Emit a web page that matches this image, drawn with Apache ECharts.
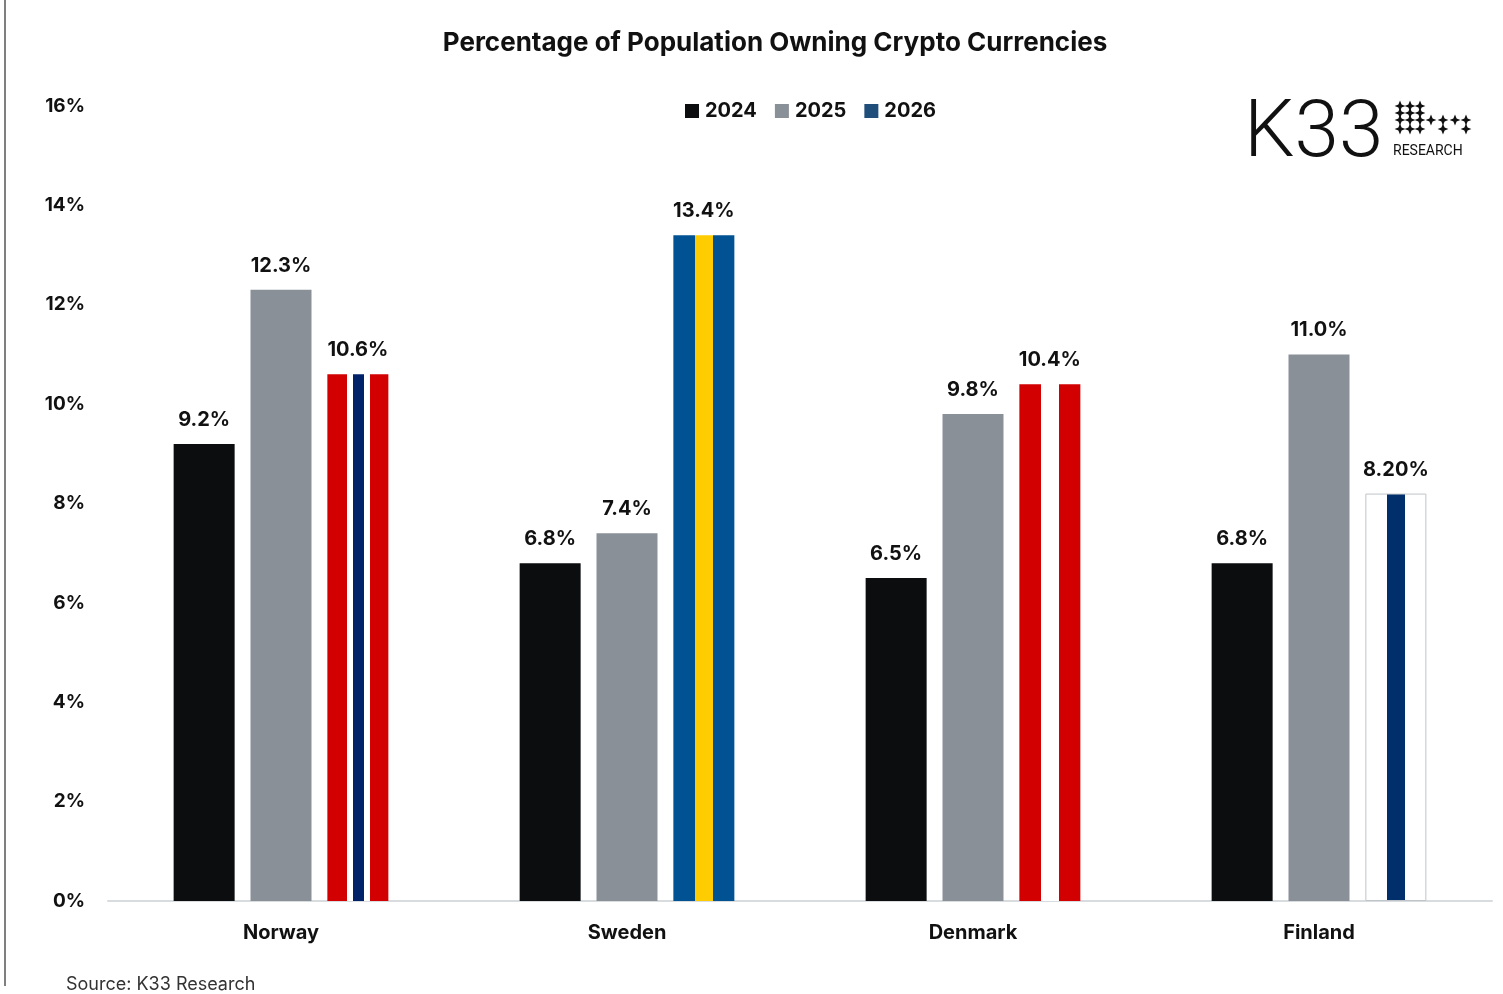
<!DOCTYPE html>
<html>
<head>
<meta charset="utf-8">
<script src="https://cdn.jsdelivr.net/npm/echarts@6/dist/echarts.min.js"></script>
<style>
html,body{margin:0;padding:0;background:#fff;}
#chart{width:1503px;height:994px;}
</style>
</head>
<body>
<div id="chart"></div>
<script>
// ---- data ----
const categories = ['Norway', 'Sweden', 'Denmark', 'Finland'];
const seriesNames = ['2024', '2025', '2026'];
const values2024 = [9.2, 6.8, 6.5, 6.8];
const values2025 = [12.3, 7.4, 9.8, 11.0];
const values2026 = [10.6, 13.4, 10.4, 8.2];
const labels2026 = ['10.6%', '13.4%', '10.4%', '8.20%'];
const yTicks = [0, 2, 4, 6, 8, 10, 12, 14, 16];
const titleText = 'Percentage of Population Owning Crypto Currencies';
const sourceText = 'Source: K33 Research';

// ---- styles ----
const FONT = 'Inter, "Noto Sans", sans-serif';
const C2024 = '#0b0d0f', C2025 = '#8a9097', C2026 = '#1f4e7a';

function stripes(stops) {
  // stops: [[from,to,color],...] -> hard-edged horizontal gradient
  const cs = [];
  stops.forEach(s => { cs.push({offset: s[0], color: s[2]}); cs.push({offset: s[1], color: s[2]}); });
  return new echarts.graphic.LinearGradient(0, 0, 1, 0, cs);
}
const RED = '#d20000', WHITE = '#ffffff';
const flagStyles = [
  {color: stripes([[0, 0.323, RED], [0.323, 0.419, WHITE], [0.419, 0.597, '#012169'], [0.597, 0.694, WHITE], [0.694, 1, RED]])},
  {color: stripes([[0, 0.355, '#005293'], [0.355, 0.645, '#fecc00'], [0.645, 1, '#005293']])},
  {color: stripes([[0, 0.355, RED], [0.355, 0.645, WHITE], [0.645, 1, RED]])},
  {color: stripes([[0, 0.355, WHITE], [0.355, 0.645, '#002f6c'], [0.645, 1, WHITE]]), borderColor: '#bfc4c9', borderWidth: 1}
];

const labelBase = {show: true, position: 'top', distance: 14, fontFamily: FONT, fontWeight: 'bold', fontSize: 20, color: '#111'};

// logo stars
function star(cx, cy) {
  const r = 5.4, k = 1.6;
  return {type: 'polygon', shape: {points: [[cx, cy - r], [cx + k, cy - k], [cx + r, cy], [cx + k, cy + k], [cx, cy + r], [cx - k, cy + k], [cx - r, cy], [cx - k, cy - k]]}, style: {fill: '#111'}, silent: true};
}
const starPts = [];
[[106, [1400, 1410, 1420]], [113, [1400, 1410, 1420]], [120, [1400, 1410, 1420, 1431, 1443, 1455, 1466]], [129, [1400, 1410, 1420, 1443, 1466]]]
  .forEach(r => r[1].forEach(x => starPts.push(star(x, r[0]))));

const chart = echarts.init(document.getElementById('chart'));
chart.setOption({
  animation: false,
  backgroundColor: '#fff',
  title: {
    text: titleText, left: 770, top: 25, textAlign: 'center',
    textStyle: {fontFamily: FONT, fontWeight: 'bold', fontSize: 26, color: '#111'}
  },
  legend: {
    data: seriesNames, left: 680, top: 96, icon: 'rect', itemWidth: 14, itemHeight: 14, itemGap: 18,
    textStyle: {fontFamily: FONT, fontWeight: 'bold', fontSize: 20, color: '#111', padding: [0, 0, 0, 1]}
  },
  grid: {left: 108, right: 11, top: 106, bottom: 93, containLabel: false},
  xAxis: {
    type: 'category', data: categories,
    axisLine: {lineStyle: {color: '#d9dcdf', width: 2}},
    axisTick: {show: false},
    axisLabel: {margin: 22, fontFamily: FONT, fontWeight: 'bold', fontSize: 20, color: '#111'}
  },
  yAxis: {
    type: 'value', min: yTicks[0], max: yTicks[yTicks.length - 1], interval: 2,
    splitLine: {show: false}, axisLine: {show: false}, axisTick: {show: false},
    axisLabel: {margin: 23, formatter: '{value}%', fontFamily: FONT, fontWeight: 'bold', fontSize: 19, color: '#111'}
  },
  series: [
    {name: '2024', type: 'bar', data: values2024, barWidth: 61, barGap: '26%', itemStyle: {color: C2024},
      label: Object.assign({}, labelBase, {formatter: p => p.value.toFixed(1) + '%'})},
    {name: '2025', type: 'bar', data: values2025, barWidth: 61, barGap: '26%', itemStyle: {color: C2025},
      label: Object.assign({}, labelBase, {formatter: p => p.value.toFixed(1) + '%'})},
    {name: '2026', type: 'bar', barWidth: 61, barGap: '26%', itemStyle: {color: C2026},
      data: values2026.map((v, i) => ({value: v, itemStyle: flagStyles[i]})),
      label: Object.assign({}, labelBase, {formatter: p => labels2026[p.dataIndex]})}
  ],
  graphic: [
    {type: 'line', shape: {x1: 5, y1: 0, x2: 5, y2: 986}, style: {stroke: '#555', lineWidth: 1.5}, silent: true},
    {type: 'text', left: 66, top: 976, style: {text: sourceText, fontFamily: FONT, fontSize: 18, fill: '#333'}},
    {type: 'text', left: 1244, top: 96, style: {text: 'K33', fontFamily: 'Roboto, sans-serif', fontWeight: 300, fontSize: 80, fill: '#111'}},
    {type: 'text', left: 1393, top: 144, style: {text: 'RESEARCH', fontFamily: 'Roboto, sans-serif', fontSize: 14, fill: '#111'}},
    {type: 'group', children: starPts}
  ]
});
</script>
</body>
</html>
